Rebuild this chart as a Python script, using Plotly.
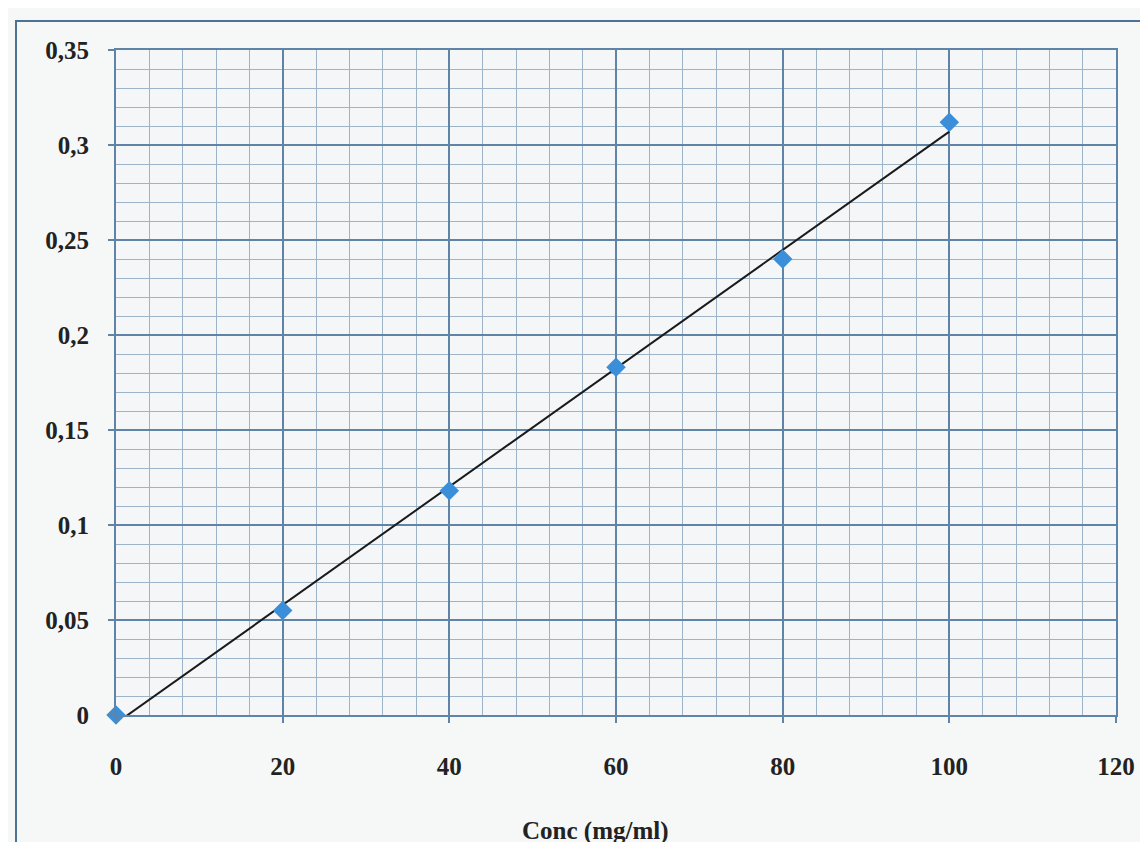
import numpy as np
import plotly.graph_objects as go

conc = [0, 20, 40, 60, 80, 100]
absorbance = [0.0, 0.055, 0.118, 0.183, 0.240, 0.312]

x_range = [0, 120]
y_range = [0, 0.35]
x_title = "Conc (mg/ml)"

slope, intercept = np.polyfit(conc, absorbance, 1)
trend_x = [0, 100]
trend_y = [intercept + slope * v for v in trend_x]

major_col = "#5f84a6"
minor_col = "#9db3c8"
font = dict(family="Liberation Serif", size=25, color="#222222")

fig = go.Figure()
fig.add_trace(go.Scatter(x=trend_x, y=trend_y, mode="lines",
                         line=dict(color="#1a1a1a", width=2), showlegend=False,
                         hoverinfo="skip"))
fig.add_trace(go.Scatter(x=conc, y=absorbance, mode="markers",
                         marker=dict(symbol="diamond", size=15, color="#3b8fd8",
                                     line=dict(width=0)),
                         cliponaxis=False, showlegend=False))

axis_common = dict(showline=True, linecolor=major_col, linewidth=2, mirror=True,
                   showgrid=True, gridcolor=major_col, gridwidth=2,
                   ticks="outside", ticklen=6, tickwidth=2, tickcolor=major_col,
                   zeroline=False, tickfont=font)

fig.update_xaxes(range=x_range, dtick=20, tick0=0,
                 minor=dict(dtick=4, showgrid=True, gridcolor=minor_col, gridwidth=1),
                 ticklabelstandoff=22, **axis_common)
fig.update_yaxes(range=y_range, dtick=0.05, tick0=0,
                 minor=dict(dtick=0.01, showgrid=True, gridcolor=minor_col, gridwidth=1),
                 ticklabelstandoff=14, **axis_common)

fig.add_shape(type="rect", xref="paper", yref="paper",
              x0=-0.1, x1=1.06, y0=-0.2, y1=1.0436,
              line=dict(color="#4d7394", width=2), layer="below")

fig.add_annotation(text="<b>" + x_title + "</b>", xref="paper", yref="paper",
                   x=0.479, y=-0.175, showarrow=False, font=font,
                   xanchor="center", yanchor="middle")

fig.update_layout(
    width=1148, height=842,
    margin=dict(l=108, r=40, t=42, b=135),
    paper_bgcolor="#f6f7f7", plot_bgcolor="#f4f6f7",
    separators=", ",
    font=font,
)
fig.update_xaxes(tickprefix="<b>", ticksuffix="</b>")
fig.update_yaxes(tickprefix="<b>", ticksuffix="</b>")

fig.write_html("out.html")
